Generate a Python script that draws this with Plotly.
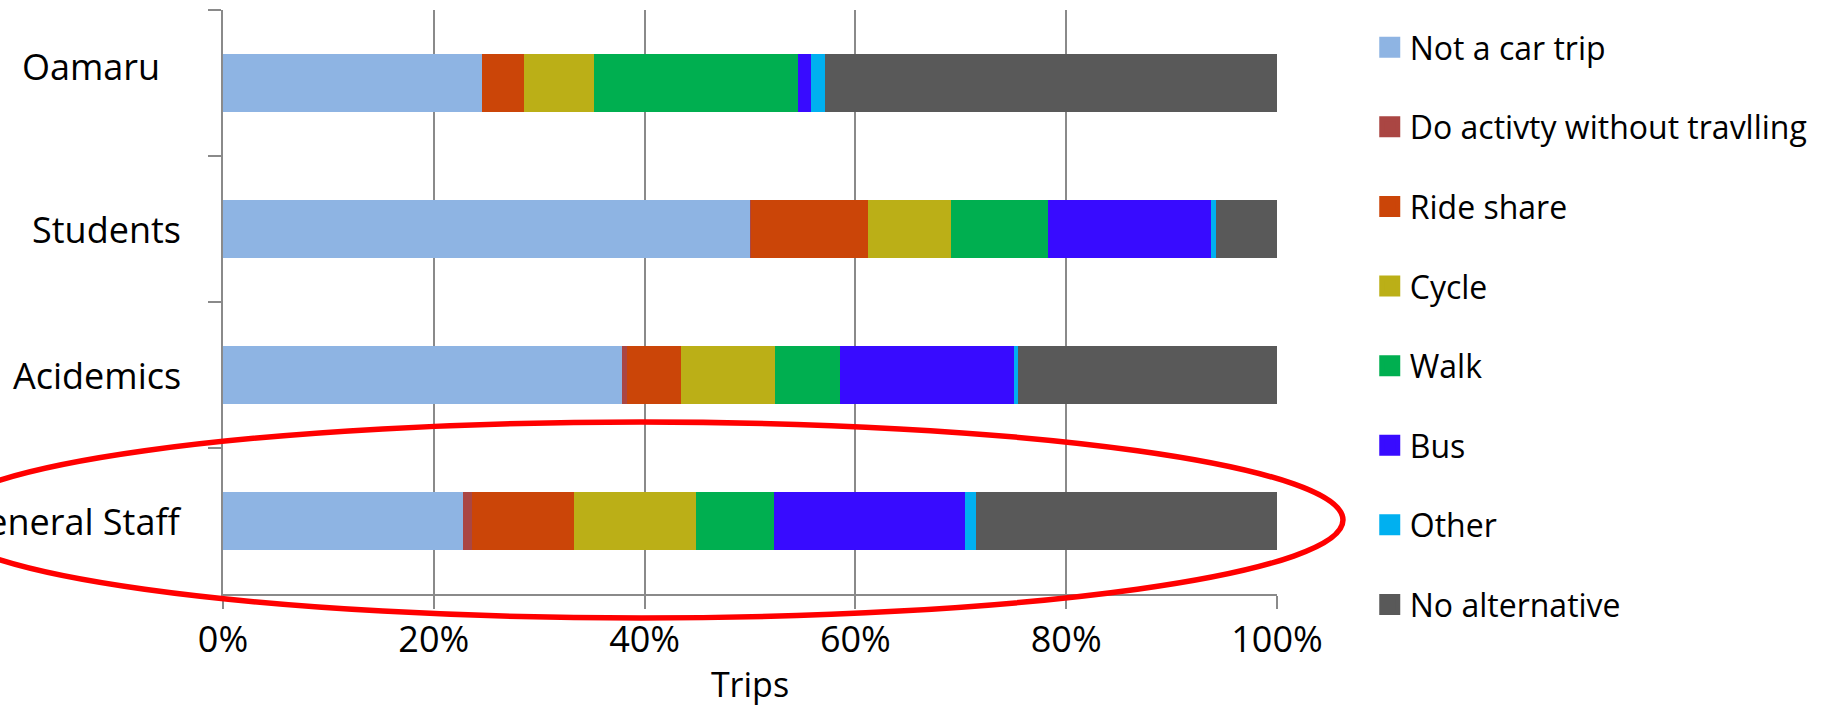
import plotly.graph_objects as go

# Trip groups, top to bottom
categories = ["Oamaru", "Students", "Acidemics", "General Staff"]

# Share of trips (%) by alternative to driving
not_car_trip = [24.6, 50.0, 37.9, 22.8]
do_activity = [0.0, 0.1, 0.4, 0.8]
ride_share = [4.0, 11.1, 5.2, 9.7]
cycle = [6.6, 7.9, 8.9, 11.6]
walk = [19.4, 9.2, 6.1, 7.4]
bus = [1.2, 15.4, 16.5, 18.1]
other = [1.3, 0.5, 0.4, 1.0]
no_alternative = [42.9, 5.8, 24.6, 28.6]

series_names = ["Not a car trip", "Do activty without travlling", "Ride share",
                "Cycle", "Walk", "Bus", "Other", "No alternative"]
series_values = [not_car_trip, do_activity, ride_share, cycle, walk, bus,
                 other, no_alternative]
series_colors = ["#8EB4E3", "#AA4643", "#CB4508", "#BBAF17", "#00AF50",
                 "#380BFF", "#00B0F0", "#595959"]

x_tick_values = [0, 20, 40, 60, 80, 100]
x_tick_labels = ["0%", "20%", "40%", "60%", "80%", "100%"]

FONT = "Open Sans, Lato, Arial, sans-serif"
GRID = "#8A8A8A"

fig = go.Figure()

for name, vals, color in zip(series_names, series_values, series_colors):
    fig.add_trace(go.Bar(
        y=categories, x=vals, name=name, orientation="h",
        marker=dict(color=color, line=dict(width=0)),
        showlegend=False, legendgroup=name,
    ))

# Legend entries with larger square swatches
for name, color in zip(series_names, series_colors):
    fig.add_trace(go.Scatter(
        x=[None], y=[None], mode="markers", name=name, legendgroup=name,
        marker=dict(symbol="square", size=16, color=color,
                    line=dict(width=5, color=color)),
        showlegend=True,
    ))

# Category labels at the left of the bars
for cat in categories:
    is_first = cat == categories[0]
    fig.add_annotation(
        x=-0.058 if is_first else -0.038, xref="paper", xanchor="right",
        y=cat, yref="y", yshift=17 if is_first else 0,
        text=cat, showarrow=False,
        font=dict(family=FONT, size=36, color="black"),
    )

# Red ellipse highlighting the general staff bar (paper refs so it is not clipped)
fig.add_shape(
    type="circle", xref="paper", yref="paper",
    x0=-0.2694, x1=1.0626, y0=-0.041, y1=0.2945,
    line=dict(color="#FF0000", width=5.5), layer="above",
)

fig.update_layout(
    width=1828, height=710,
    margin=dict(l=223, r=551, t=10, b=116, pad=0),
    paper_bgcolor="white", plot_bgcolor="white",
    barmode="stack", bargap=0.6,
    font=dict(family=FONT, color="black"),
    legend=dict(
        x=1.088, xanchor="left", y=0.983, yanchor="top",
        font=dict(family=FONT, size=32, color="black"),
        tracegroupgap=35, traceorder="grouped", maxheight=700,
        bgcolor="rgba(0,0,0,0)", borderwidth=0,
    ),
    xaxis=dict(
        range=[0, 100], tickvals=x_tick_values, ticktext=x_tick_labels,
        showgrid=True, gridcolor=GRID, gridwidth=1.5, zeroline=False,
        showline=True, linecolor=GRID, linewidth=2,
        ticks="outside", ticklen=13, tickcolor=GRID, tickwidth=1.5,
        tickfont=dict(family=FONT, size=36, color="black"),
        title=dict(text="Trips", font=dict(family=FONT, size=34, color="black"),
                   standoff=11),
        fixedrange=True,
    ),
    yaxis=dict(
        type="category", categoryorder="array", categoryarray=categories,
        range=[3.5, -0.5], showticklabels=False, showgrid=False,
        showline=True, linecolor=GRID, linewidth=2, zeroline=False,
        ticks="outside", ticklen=13, tickcolor=GRID, tickwidth=1.5,
        tickson="boundaries", fixedrange=True,
    ),
)

fig.write_html("out.html")
